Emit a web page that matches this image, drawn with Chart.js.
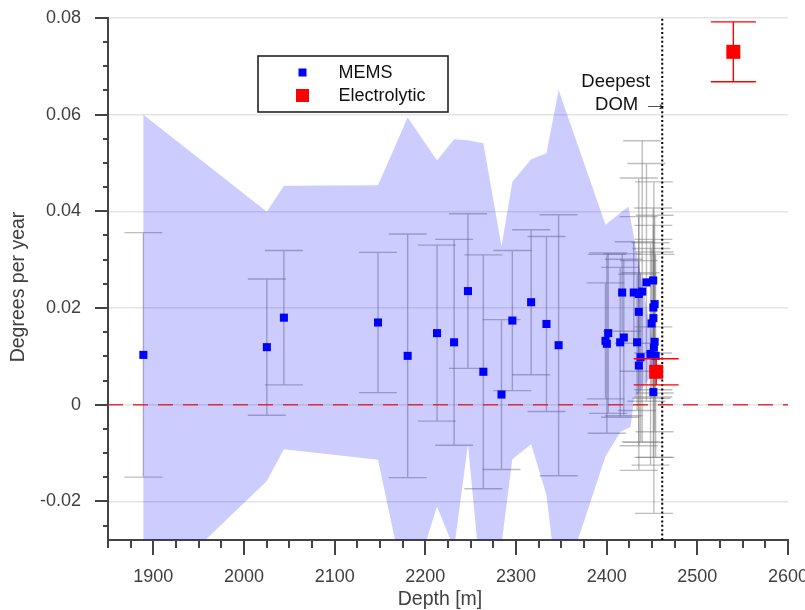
<!DOCTYPE html>
<html>
<head>
<meta charset="utf-8">
<script src="https://cdn.jsdelivr.net/npm/chart.js@4.4.0/dist/chart.umd.min.js"></script>
<style>
  html, body { margin: 0; padding: 0; background: #fff; }
  canvas { display: block; }
</style>
</head>
<body>
<canvas id="chart" width="805" height="610"></canvas>
<script>
// MEMS sensors: depth [m], warming rate [deg/yr], 1-sigma error
const memsDepth = [1889, 2025.2, 2044, 2147.8, 2180.5, 2212.9, 2231.7, 2247, 2264, 2284, 2296, 2316.7, 2333.6, 2347,
  2398.7, 2400.2, 2401.7, 2414.9, 2417.1, 2418.9, 2429.9, 2433.6, 2435.4, 2435.4, 2435.5, 2437.4,
  2439.2, 2443.9, 2448.4, 2449.5, 2451.3, 2451.5, 2451.5, 2451.5, 2452.1, 2452.9, 2452.9, 2454.0];
const memsRate = [0.0103, 0.0119, 0.0180, 0.0170, 0.0101, 0.0148, 0.0129, 0.0235, 0.0068, 0.0021, 0.0174, 0.0212, 0.0167, 0.0123,
  0.0132, 0.0126, 0.0148, 0.0129, 0.0232, 0.0139, 0.0232, 0.0129, 0.0229, 0.0192, 0.0081, 0.0098,
  0.0234, 0.0253, 0.0105, 0.0168, 0.0257, 0.0201, 0.0179, 0.0026, 0.0118, 0.0208, 0.0130, 0.0101];
const memsError = [0.0253, 0.0141, 0.0139, 0.0145, 0.0252, 0.0182, 0.0213, 0.0160, 0.0242, 0.0155, 0.0145, 0.0150, 0.0181, 0.0270,
  0.0120, 0.0185, 0.0166, 0.0155, 0.0080, 0.0162, 0.0105, 0.0141, 0.0160, 0.0277, 0.0217, 0.0175,
  0.0312, 0.0246, 0.0230, 0.0155, 0.0150, 0.0170, 0.0163, 0.0135, 0.0343, 0.0184, 0.0186, 0.0210];

// Electrolytic sensors
const electroDepth = [2454.6, 2539.7];
const electroRate = [0.0068, 0.0730];
const electroError = [0.0027, 0.0062];

// shaded band outline: upper edge left->right, then lower edge right->left
const bandDepth = [1889, 2025.2, 2044, 2147.8, 2180.5, 2212.9, 2231.7, 2247, 2264, 2284, 2296, 2316.7, 2333.6, 2347, 2398.7, 2424, 2455,
  2455, 2430.0, 2426.4, 2415.3, 2398.7, 2347, 2333.6, 2316.7, 2296, 2284, 2264, 2247, 2231.7, 2212.9, 2180.5, 2147.8, 2044, 2025.2, 1889];
const bandRate = [0.0600, 0.0399, 0.0453, 0.0454, 0.0594, 0.0505, 0.0549, 0.0547, 0.0541, 0.0327, 0.0461, 0.0508, 0.0520, 0.0651, 0.0372, 0.0410, 0.0085,
  0.0075, 0.0010, -0.0046, -0.0056, -0.0107, -0.0400, -0.0187, -0.0082, -0.0113, -0.0289, -0.0416, -0.0083, -0.0297, -0.0211, -0.0403, -0.0114, -0.0092, -0.0158, -0.0403];

const deepestDom = 2461.3;

const xMajorTicks = [1900, 2000, 2100, 2200, 2300, 2400, 2500, 2600];
const xMinorStep = 25;
const yMajorTicks = [-0.02, 0, 0.02, 0.04, 0.06, 0.08];
const yTickLabels = ['-0.02', '0', '0.02', '0.04', '0.06', '0.08'];
const yMinorStep = 0.005;

const FONT = '"Liberation Sans", Arial, Helvetica, sans-serif';
const AXIS_COLOR = '#444';
const TEXT_COLOR = '#404040';

const toPoints = (xs, ys) => xs.map((x, i) => ({ x: x, y: ys[i] }));

const isMajorY = v => yMajorTicks.some(m => Math.abs(m - v) < 1e-9);

function drawErrorBars(chart, xs, ys, errs, color, capWidth, lineWidth) {
  const { ctx, chartArea: a, scales: { x, y } } = chart;
  ctx.save();
  ctx.beginPath();
  ctx.rect(a.left, a.top, a.right - a.left, a.bottom - a.top);
  ctx.clip();
  ctx.strokeStyle = color;
  ctx.lineWidth = lineWidth;
  xs.forEach((d, i) => {
    const px = x.getPixelForValue(d);
    const top = y.getPixelForValue(ys[i] + errs[i]);
    const bot = y.getPixelForValue(ys[i] - errs[i]);
    ctx.beginPath();
    ctx.moveTo(px, top); ctx.lineTo(px, bot);
    ctx.moveTo(px - capWidth / 2, top); ctx.lineTo(px + capWidth / 2, top);
    ctx.moveTo(px - capWidth / 2, bot); ctx.lineTo(px + capWidth / 2, bot);
    ctx.stroke();
  });
  ctx.restore();
}

const decorPlugin = {
  id: 'decor',
  beforeDatasetsDraw(chart) {
    drawErrorBars(chart, memsDepth, memsRate, memsError, 'rgba(110,110,110,0.45)', 38, 1.4);
  },
  afterDatasetsDraw(chart) {
    drawErrorBars(chart, electroDepth, electroRate, electroError, '#ff0000', 45, 1.4);
  },
  afterDraw(chart) {
    const { ctx, chartArea: a, scales: { x, y } } = chart;
    ctx.save();
    // tick marks (major longer, minor shorter)
    ctx.strokeStyle = AXIS_COLOR;
    ctx.lineWidth = 2;
    ctx.beginPath();
    x.ticks.forEach(t => {
      const px = Math.round(x.getPixelForValue(t.value));
      const len = xMajorTicks.includes(t.value) ? 15 : 8;
      ctx.moveTo(px, a.bottom); ctx.lineTo(px, a.bottom + len);
    });
    y.ticks.forEach(t => {
      const py = Math.round(y.getPixelForValue(t.value));
      const len = isMajorY(t.value) ? 13 : 5;
      ctx.moveTo(a.left, py); ctx.lineTo(a.left - len, py);
    });
    ctx.stroke();

    // axis titles
    ctx.fillStyle = TEXT_COLOR;
    ctx.font = '19.5px ' + FONT;
    ctx.textAlign = 'center';
    ctx.textBaseline = 'middle';
    ctx.fillText('Depth [m]', a.left + 332, 600);
    ctx.save();
    ctx.translate(19, 287);
    ctx.rotate(-Math.PI / 2);
    ctx.fillText('Degrees per year', 0, 0);
    ctx.restore();

    // annotation next to the deepest DOM line
    const xd = x.getPixelForValue(deepestDom);
    ctx.fillStyle = '#111';
    ctx.font = '18.5px ' + FONT;
    ctx.textAlign = 'right';
    ctx.textBaseline = 'alphabetic';
    ctx.fillText('Deepest', xd - 12, a.top + 69);
    ctx.fillText('DOM', xd - 24, a.top + 92);
    ctx.save();
    ctx.translate(xd - 20, a.top + 92);
    ctx.scale(1.45, 1);
    ctx.textAlign = 'left';
    ctx.fillText('\u2192', 0, 0);
    ctx.restore();

    // legend box
    const lx = 258, ly = 56, lw = 190, lh = 56;
    ctx.fillStyle = '#fff';
    ctx.fillRect(lx, ly, lw, lh);
    ctx.strokeStyle = '#222';
    ctx.lineWidth = 1.6;
    ctx.strokeRect(lx, ly, lw, lh);
    const items = [
      { label: chart.data.datasets[1].label, color: '#0000ff', size: 8, cy: ly + 16.5 },
      { label: chart.data.datasets[0].label, color: '#ff0000', size: 13, cy: ly + 39.5 }
    ];
    ctx.font = '18px ' + FONT;
    ctx.textAlign = 'left';
    ctx.textBaseline = 'middle';
    items.forEach(it => {
      ctx.fillStyle = it.color;
      ctx.fillRect(302.5 - it.size / 2, it.cy - it.size / 2, it.size, it.size);
      ctx.fillStyle = '#111';
      ctx.fillText(it.label, 338.5, it.cy + 1);
    });
    ctx.restore();
  }
};

new Chart(document.getElementById('chart'), {
  type: 'scatter',
  data: {
    datasets: [
      {
        label: 'Electrolytic',
        data: toPoints(electroDepth, electroRate),
        pointStyle: 'rect',
        pointRadius: 9.9,
        pointBackgroundColor: '#ff0000',
        pointBorderWidth: 0,
        showLine: false
      },
      {
        label: 'MEMS',
        data: toPoints(memsDepth, memsRate),
        pointStyle: 'rect',
        pointRadius: 5.7,
        pointBackgroundColor: '#0000ff',
        pointBorderWidth: 0,
        showLine: false
      },
      {
        label: 'zero',
        data: [{ x: 1850, y: 0 }, { x: 2600, y: 0 }],
        showLine: true,
        borderColor: 'rgba(225,30,40,0.9)',
        borderWidth: 1.5,
        borderDash: [15, 10],
        pointRadius: 0
      },
      {
        label: 'deepest DOM',
        data: [{ x: deepestDom, y: -0.028 }, { x: deepestDom, y: 0.08 }],
        showLine: true,
        borderColor: '#000',
        borderWidth: 2,
        borderDash: [2, 2.4],
        pointRadius: 0
      },
      {
        label: 'band',
        data: toPoints(bandDepth, bandRate),
        showLine: true,
        fill: 'shape',
        backgroundColor: 'rgba(0,0,255,0.2)',
        borderWidth: 0,
        borderColor: 'rgba(0,0,0,0)',
        pointRadius: 0,
        tension: 0
      }
    ]
  },
  options: {
    responsive: false,
    animation: false,
    layout: { padding: { left: 0, right: 17, top: 18, bottom: 0 } },
    plugins: {
      legend: { display: false },
      tooltip: { enabled: false }
    },
    scales: {
      x: {
        type: 'linear',
        min: 1850,
        max: 2600,
        afterBuildTicks: s => {
          const t = [];
          for (let v = 1850; v <= 2600; v += xMinorStep) t.push({ value: v });
          s.ticks = t;
        },
        afterFit: s => { s.height = 70; s.paddingLeft = 0; s.paddingRight = 0; },
        grid: { display: true, drawOnChartArea: false, drawTicks: false },
        border: { display: true, color: AXIS_COLOR, width: 2 },
        ticks: {
          autoSkip: false,
          maxRotation: 0,
          padding: 26,
          color: TEXT_COLOR,
          font: { family: FONT, size: 18 },
          callback: v => xMajorTicks.includes(v) ? String(v) : ''
        },
        title: { display: false }
      },
      y: {
        type: 'linear',
        min: -0.028,
        max: 0.08,
        afterBuildTicks: s => {
          const t = [];
          for (let k = -5; k <= 16; k++) t.push({ value: Math.round(k * yMinorStep * 1000) / 1000 });
          s.ticks = t;
        },
        afterFit: s => { s.width = 108; s.paddingTop = 0; s.paddingBottom = 0; },
        grid: {
          drawTicks: false,
          color: c => (c.tick && isMajorY(c.tick.value)) ? '#e4e4e4' : 'rgba(0,0,0,0)',
          lineWidth: 1.6
        },
        border: { display: true, color: AXIS_COLOR, width: 2 },
        ticks: {
          autoSkip: false,
          padding: 27,
          color: TEXT_COLOR,
          font: { family: FONT, size: 18 },
          callback: v => {
            const i = yMajorTicks.findIndex(m => Math.abs(m - v) < 1e-9);
            return i >= 0 ? yTickLabels[i] : '';
          }
        },
        title: { display: false }
      }
    }
  },
  plugins: [decorPlugin]
});
</script>
</body>
</html>
